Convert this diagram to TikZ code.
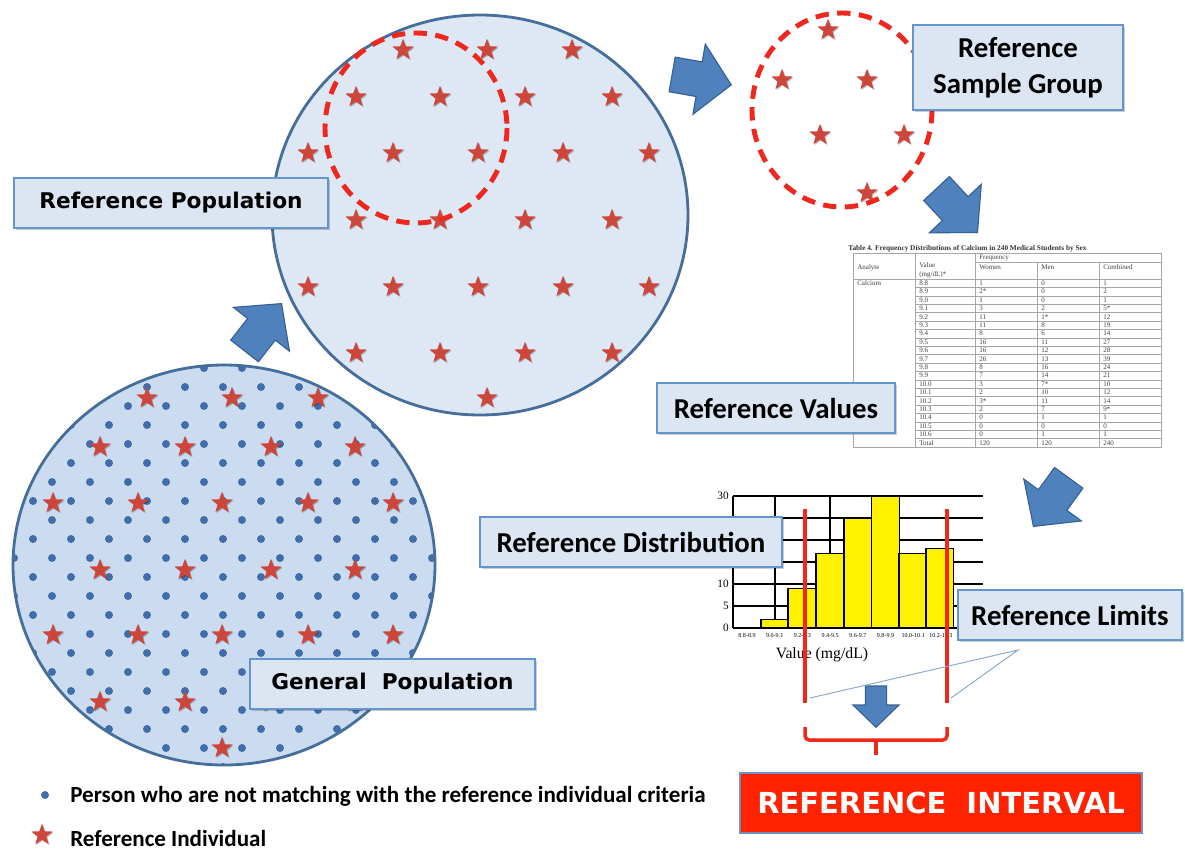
\documentclass[tikz,border=0pt]{standalone}
\usepackage{fontspec}
\newfontfamily\labelfont{Carlito}
\newfontfamily\widefont{DejaVu Sans}
\newfontfamily\tablefont{Liberation Serif}
\usetikzlibrary{calc}
\usetikzlibrary{positioning}
\usetikzlibrary{shapes.geometric,shapes.arrows,shadows}

\definecolor{genfill}{RGB}{203,220,240}
\definecolor{popfill}{RGB}{222,232,244}
\definecolor{circedge}{RGB}{70,110,155}
\definecolor{dotblue}{RGB}{65,110,170}
\definecolor{starred}{RGB}{205,70,60}
\definecolor{dashred}{RGB}{238,40,30}
\definecolor{boxfill}{RGB}{220,230,242}
\definecolor{boxedge}{RGB}{100,150,205}
\definecolor{arrowblue}{RGB}{79,129,189}
\definecolor{arrowedge}{RGB}{55,96,146}
\definecolor{limred}{RGB}{240,40,25}
\definecolor{intfill}{RGB}{255,34,0}
\definecolor{intedge}{RGB}{110,145,190}
\definecolor{thinblue}{RGB}{140,170,205}

\tikzset{
	refstar/.style={star, star points=5, star point ratio=2.4, fill=starred, inner sep=0pt, minimum size=0.56cm,
		drop shadow={shadow xshift=0.7pt, shadow yshift=-0.7pt, opacity=0.25, fill=black}},
	labelbox/.style={draw=boxedge, line width=2pt, fill=boxfill, inner sep=0pt, minimum height=1.25cm,
		font=\labelfont\bfseries\fontsize{20.5}{25.5}\selectfont,
		drop shadow={shadow xshift=1.2pt, shadow yshift=-1.2pt, opacity=0.2, fill=black}},
	widebox/.style={labelbox, font=\widefont\bfseries\fontsize{15.4}{18}\selectfont},
	blockarrow/.style={single arrow, draw=arrowedge, fill=arrowblue, line width=0.8pt, inner xsep=0pt, inner ysep=0.425cm,
		single arrow tip angle=95, minimum height=1.5cm, single arrow head extend=0.45cm},
	dashring/.style={draw=dashred, line width=3.5pt, dash pattern=on 9.5pt off 6pt},
	limitline/.style={draw=limred, line width=2.8pt},
	tabline/.style={draw=gray!70, line width=0.4pt},
	tabcell/.style={anchor=west, inner sep=0pt, text=black!75, font=\tablefont\fontsize{5}{6}\selectfont},
	gridline/.style={draw=black, line width=0.9pt},
	legendtext/.style={anchor=west, inner sep=0pt, font=\labelfont\bfseries\fontsize{16.4}{19}\selectfont}
}

\begin{document}
\begin{tikzpicture}[x=0.025cm, y=-0.025cm]

	\useasboundingbox (0,0) rectangle (1185,850);
	\fill[white] (0,0) rectangle (1185,850);

	%General population
	\fill[genfill] (224,565) ellipse [x radius=211, y radius=200];
	\begin{scope}
		\clip (224,565) ellipse [x radius=211, y radius=200];
		\foreach \r in {0,...,21} {
			\foreach \k in {0,...,11} {
				\pgfmathsetmacro\dx{14+38*\k+19*mod(\r,2)}
				\pgfmathsetmacro\dy{368+19*\r}
				\fill[dotblue] (\dx,\dy) circle [radius=4];
			}
		}
	\end{scope}
	\draw[circedge, line width=2pt] (224,565) ellipse [x radius=211, y radius=200];
	\foreach \sx/\sy [count=\i] in {147/398, 232/398, 318/398,
		100/447, 185/447, 271/447, 355/447,
		53/503, 138/503, 222/503, 308/503, 393/503,
		100/570, 185/570, 271/570, 355/570,
		53/635, 138/635, 222/635, 308/635, 393/635,
		100/702, 185/702, 271/702, 355/702,
		222/748}
		\node[refstar] (gen\i) at (\sx,\sy) {};

	%Reference population
	\filldraw[fill=popfill, draw=circedge, line width=2pt] (480,215) ellipse [x radius=208, y radius=200];
	\foreach \sx/\sy [count=\i] in {403/50, 487/50, 572/50,
		356/97, 440/97, 525/97, 612/97,
		308/153, 393/153, 478/153, 563/153, 649/153,
		356/220, 440/220, 525/220, 612/220,
		308/287, 393/287, 478/287, 563/287, 649/287,
		356/353, 440/353, 525/353, 612/353,
		487/398}
		\node[refstar] (pop\i) at (\sx,\sy) {};
	\draw[dashring] (416,128) ellipse [x radius=91, y radius=95];

	%Reference sample group
	\foreach \sx/\sy [count=\i] in {828/30, 782/80, 867/80, 820/135, 904/135, 867/193}
		\node[refstar] (smp\i) at (\sx,\sy) {};
	\draw[dashring] (842,110) ellipse [x radius=90, y radius=97];

	%Arrows
	\node[blockarrow, rotate=52, anchor=tip] (toref) at (282,303) {};
	\node[blockarrow, rotate=-10, anchor=tip] (tosample) at (732,85) {};
	\node[blockarrow, rotate=-47, anchor=tip] (totable) at (978,233) {};
	\node[blockarrow, rotate=234, anchor=tip] (tohist) at (1033,527) {};
	\node[blockarrow, rotate=-90, anchor=tip, minimum height=1.03cm, inner ysep=0.25cm,
		single arrow head extend=0.31cm, single arrow tip angle=92] (tointerval) at (876,728) {};

	%Table
	\node[anchor=south west, inner sep=0pt, text=black!80, font=\tablefont\bfseries\fontsize{5.2}{6}\selectfont]
		(tabtitle) at (848,252) {Table 4. Frequency Distributions of Calcium in 240 Medical Students by Sex};
	\draw[tabline, fill=white] (853,253) rectangle (1161,447);
	\draw[tabline] (915,253) -- (915,447);
	\draw[tabline] (975,253) -- (975,447);
	\draw[tabline] (1037,262) -- (1037,447);
	\draw[tabline] (1099,262) -- (1099,447);
	\draw[tabline] (975,262) -- (1161,262);
	\draw[tabline] (853,279) -- (1161,279);
	\node[tabcell] (hfreq) at (979,257.5) {Frequency};
	\node[tabcell] (hana) at (857,268) {Analyte};
	\node[tabcell, align=left, font=\tablefont\fontsize{5}{6.5}\selectfont] (hval) at (919,270) {Value\\(mg/dL)*};
	\node[tabcell] (hwom) at (979,267) {Women};
	\node[tabcell] (hmen) at (1041,267) {Men};
	\node[tabcell] (hcom) at (1103,267) {Combined};
	\node[tabcell] (calc) at (857,283.2) {Calcium};
	\foreach \v/\w/\m/\c [count=\i from 0] in {8.8/1/0/1, 8.9/2*/0/2, 9.0/1/0/1, 9.1/3/2/5*,
		9.2/11/1*/12, 9.3/11/8/19, 9.4/8/6/14, 9.5/16/11/27, 9.6/16/12/28, 9.7/26/13/39,
		9.8/8/16/24, 9.9/7/14/21, 10.0/3/7*/10, 10.1/2/10/12, 10.2/3*/11/14, 10.3/2/7/9*,
		10.4/0/1/1, 10.5/0/0/0, 10.6/0/1/1, Total/120/120/240} {
		\pgfmathsetmacro\ry{279+8.4*\i}
		\draw[tabline] (915,\ry+8.4) -- (1161,\ry+8.4);
		\node[tabcell] (tv\i) at (919,\ry+4.2) {\v};
		\node[tabcell] (tw\i) at (979,\ry+4.2) {\w};
		\node[tabcell] (tm\i) at (1041,\ry+4.2) {\m};
		\node[tabcell] (tc\i) at (1103,\ry+4.2) {\c};
	}

	%Histogram
	\foreach \t in {0,5,...,30} {
		\pgfmathsetmacro\gy{628-4.4*\t}
		\draw[gridline] (733,\gy) -- (983,\gy);
	}
	\foreach \t [count=\j] in {0,5,10,30} {
		\pgfmathsetmacro\gy{628-4.4*\t}
		\node[anchor=east, inner sep=0pt, font=\tablefont\fontsize{8}{9}\selectfont] (ytick\j) at (729,\gy) {\t};
	}
	\foreach \gx in {775,830,885}
		\draw[gridline] (\gx,496) -- (\gx,628);
	\draw[gridline] (733,496) -- (733,628);
	\foreach \bx/\bh in {761/2, 788/9, 816/17, 844/25, 871.7/30, 899/17, 926/18}
		\draw[line width=0.9pt, fill=yellow] (\bx,628) rectangle ++(27.7,-4.4*\bh);
	\foreach \lb [count=\j] in {8.8-8.9, 9.0-9.1, 9.2-9.3, 9.4-9.5, 9.6-9.7, 9.8-9.9, 10.0-10.1, 10.2-10.3} {
		\pgfmathsetmacro\lx{747+27.7*\j-27.7}
		\node[inner sep=0pt, font=\tablefont\fontsize{4.3}{5}\selectfont] (xtick\j) at (\lx,636) {\lb};
	}
	\node[inner sep=0pt, font=\tablefont\fontsize{11.2}{13}\selectfont] (xlabel) at (822,655) {Value (mg/dL)};

	%Reference limits
	\coordinate (lolim) at (805,703);
	\coordinate (hilim) at (947,703);
	\draw[limitline] (805,509) -- (lolim);
	\draw[limitline] (947,509) -- (hilim);
	\coordinate (limpt) at (1018,650);
	\coordinate (loend) at (810,698);
	\coordinate (hiend) at (951,698);
	\draw[thinblue, line width=0.7pt] (loend) -- (limpt) -- (hiend);

	%Bracket
	\draw[limitline, line width=2.5pt, rounded corners=3pt] (805,727) -- (805,740) -- (947,740) -- (947,727);
	\draw[limitline, line width=2.5pt] (876,740) -- (876,755);

	%Labels
	\node[widebox, minimum width=7.85cm] (refpop) at (171,203) {Reference Population};
	\node[widebox, minimum width=7.125cm] (genpop) at (392.5,684) {General\ \ Population};
	\node[labelbox, minimum width=5.25cm, minimum height=2.125cm, align=center] (refsample) at (1018,67.5) {Reference\\Sample Group};
	\node[labelbox, minimum width=5.95cm] (refvalues) at (776,408) {Reference Values};
	\node[labelbox, minimum width=7.55cm] (refdist) at (631,542) {Reference Distribution};
	\node[labelbox, minimum width=5.6cm] (reflimits) at (1070,615) {Reference Limits};
	\node[draw=intedge, line width=2pt, fill=intfill, text=white, inner sep=0pt, minimum width=10.05cm, minimum height=1.5cm,
		font=\widefont\bfseries\fontsize{20.6}{24}\selectfont] (interval) at (941,803) {REFERENCE\ \ INTERVAL};

	%Legend
	\fill[dotblue] (45,795) circle [radius=4];
	\node[legendtext] (legdot) at (70,796) {Person who are not matching with the reference individual criteria};
	\node[refstar] (legstar) at (42,835) {};
	\node[legendtext] (legstartext) at (70,838) {Reference Individual};

\end{tikzpicture}
\end{document}
